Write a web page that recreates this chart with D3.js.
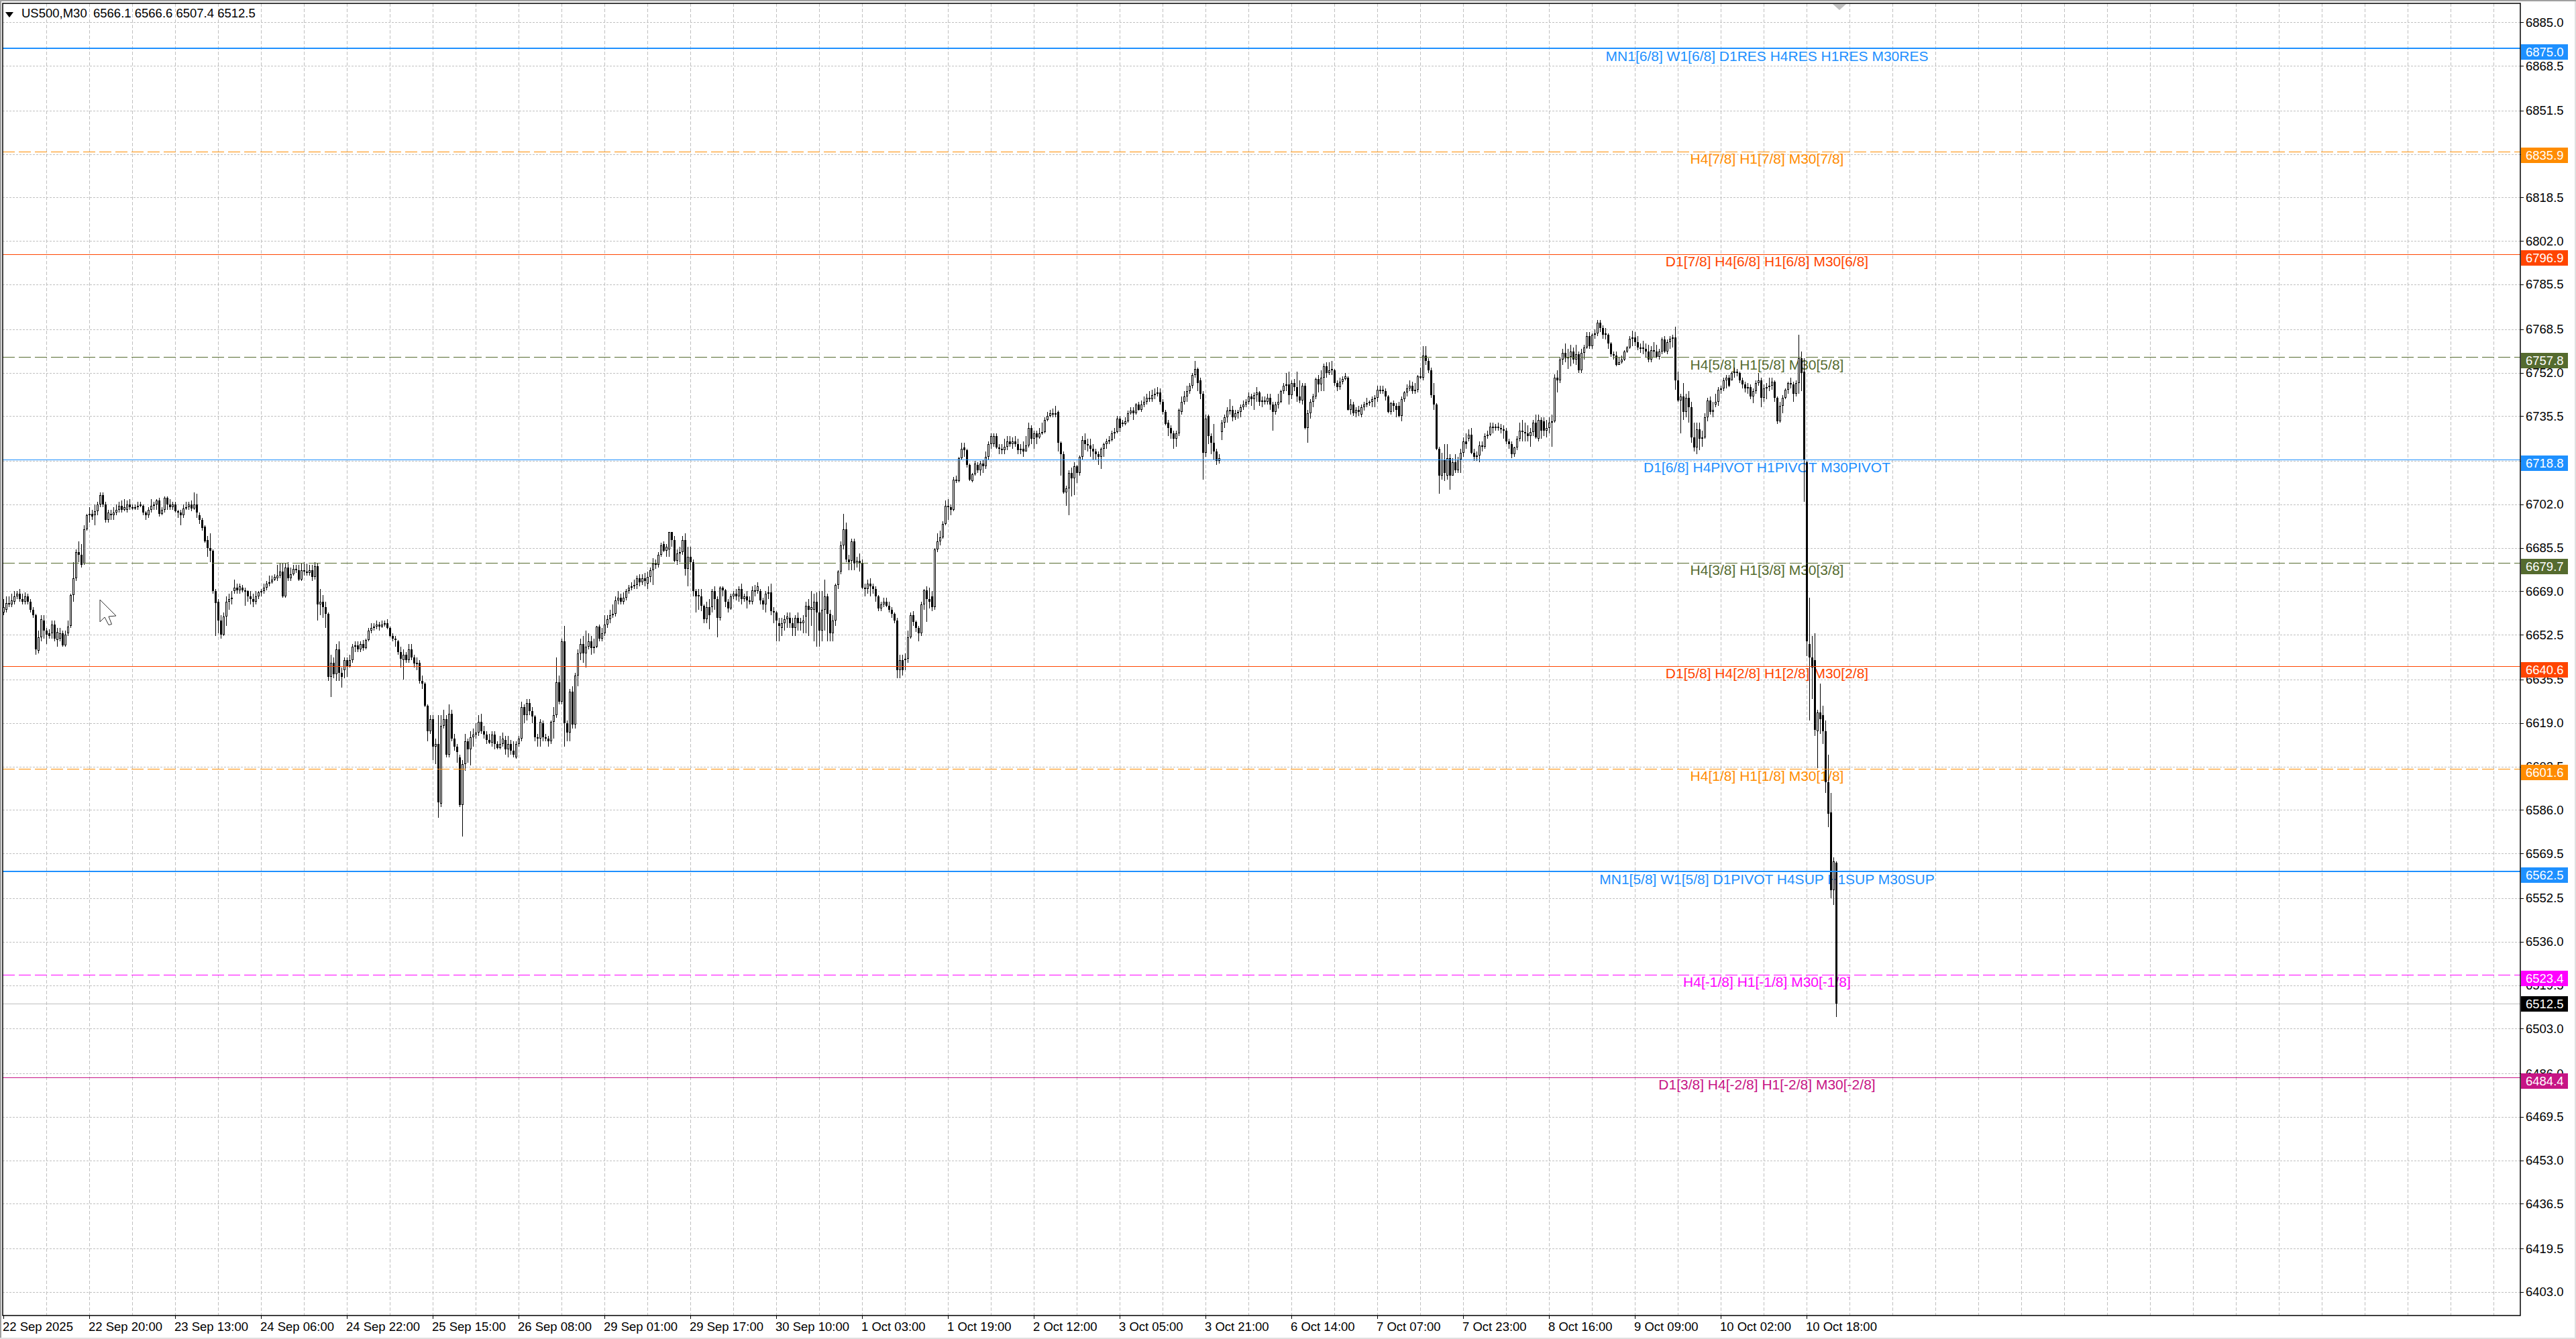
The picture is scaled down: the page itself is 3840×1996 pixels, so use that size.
<!DOCTYPE html>
<html>
<head>
<meta charset="utf-8">
<title>US500,M30</title>
<script src="https://cdn.jsdelivr.net/npm/d3@7"></script>
<style>
  html, body { margin: 0; padding: 0; background: #fff; overflow: hidden; }
  svg { display: block; }
  text { font-family: "Liberation Sans", Arial, sans-serif; }
</style>
</head>
<body>
<div id="chart"></div>
<script>
// Candle values, one entry per M30 bar
const opens = [
6661,6662,6664,6664,6665,6667,6668,6666,6665,6667,
6665,6662,6660,6646.5,6651.5,6658,6654,6653,6653,6656.5,
6650.5,6651,6653,6648.5,6653,6656,6667.5,6674,6684,6683,
6679.5,6692.5,6698,6698.5,6698,6699.5,6702,6705.5,6702,6696,
6698,6698,6699,6700,6701.5,6700,6700,6702,6701,6700.5,
6701,6701.5,6701.5,6699,6698,6700,6701.5,6702,6703.5,6698.5,
6700,6704.5,6702,6701,6702,6699.5,6699,6698,6700.5,6701,
6702,6700.5,6702,6698,6696,6693.5,6688.5,6685.5,6684.5,6669,
6665,6658,6652.5,6659.5,6665,6666,6669,6670.5,6669.5,6670.5,
6669.5,6669,6667,6666,6665,6667,6668.5,6669,6670.5,6672,
6672.5,6673.5,6674,6675,6676.5,6667,6678,6674,6675.5,6677.5,
6677,6673.5,6677,6676.5,6676,6677,6674.5,6678.5,6664,6665,
6663,6660.5,6636.5,6642,6637.5,6647,6638,6639,6643,6640.5,
6643,6648,6648.5,6647,6649,6647.5,6650.5,6654,6655,6655.5,
6656.5,6655.5,6656.5,6657,6655,6652,6651,6650,6646,6643,
6645,6643,6647,6644,6641.5,6642,6635,6634,6625.5,6616,
6620.5,6610,6611,6588.5,6618,6620.5,6607,6622.5,6613,6610,
6606,6588,6603.5,6612,6609,6613.5,6614.5,6615.5,6619.5,6616,
6614.5,6612.5,6611.5,6614.5,6611,6609.5,6611,6612.5,6609,6611,
6608.5,6606,6611,6613,6625,6622,6626.5,6623.5,6621.5,6613.5,
6613,6619,6613.5,6613,6612,6619.5,6622,6634.5,6627,6650,
6619,6615.5,6631,6618.5,6637,6645.5,6649,6645.5,6648,6650,
6647.5,6648,6655.5,6651,6653,6656.5,6658.5,6660,6660.5,6665.5,
6666.5,6665,6666.5,6669,6670.5,6671,6671.5,6674,6672.5,6674,
6672,6674.5,6677,6679.5,6679,6683,6687,6684.5,6685,6691.5,
6688.5,6680.5,6683.5,6684,6688.5,6677.5,6682,6680,6669,6667,
6667,6663.5,6658.5,6663,6663,6669,6666,6659,6670.5,6669.5,
6665,6662.5,6667,6668,6667,6670,6666,6667,6665.5,6665,
6669.5,6669,6669,6665.5,6664,6668,6668.5,6661.5,6661,6657,
6655,6657,6658.5,6659,6657,6655,6659,6657.5,6657,6659.5,
6663.5,6662,6662,6665,6661,6654,6662,6667,6660.5,6653,
6658,6671.5,6676.5,6686.5,6692.5,6681,6680.5,6688,6679.5,6680.5,
6679.5,6670.5,6670,6672,6671,6670,6667,6662.5,6664,6665,
6663.5,6662,6660.5,6658,6639,6643,6643,6643.5,6651.5,6660,
6657.5,6655,6653,6664,6669.5,6666,6667,6663,6685,6688,
6689.5,6694.5,6701.5,6701,6700,6711.5,6711,6719.5,6723.5,6722.5,
6717,6711,6713.5,6717,6715,6717.5,6716.5,6720,6725,6725,
6728,6723.5,6723,6722.5,6724,6726,6725,6726,6725,6722.5,
6723,6722,6724.5,6731,6727,6729,6727.5,6729,6729.5,6734,
6735.5,6736.5,6736,6737,6725.5,6721,6706.5,6708,6714,6712,
6716.5,6714,6720,6726.5,6725,6724.5,6723,6722,6721,6720,
6723,6725,6726,6726.5,6729,6729.5,6734.5,6733,6732.5,6733.5,
6736.5,6737.5,6736.5,6740,6738,6740,6741,6742.5,6742,6743.5,
6744,6744.5,6741,6737,6733,6731,6729,6727,6729,6737,
6741,6743,6745,6747,6751,6753.5,6749,6744,6721.5,6735.5,
6728,6725.5,6722,6718.5,6729.5,6733,6735,6737.5,6738,6735,
6736.5,6737,6739,6740,6741,6743,6742,6743.5,6744.5,6741,
6741.5,6741,6742.5,6740,6737,6740,6741,6745,6747,6747.5,
6743.5,6748,6746.5,6743,6741.5,6747,6731,6736.5,6741,6743,
6749.5,6747.5,6750,6754.5,6752,6753,6753,6748,6746.5,6748.5,
6749.5,6750,6738,6740,6736.5,6738,6736,6739,6740,6740.5,
6741,6742,6742.5,6745,6745.5,6745,6743,6737,6740.5,6739.5,
6739.5,6735.5,6742,6744.5,6746,6747,6745,6745.5,6750.5,6750,
6758.5,6756.5,6753,6743.5,6740,6723,6713,6719,6713,6719.5,
6713,6718,6715,6719,6721.5,6726,6727,6728.5,6721.5,6720,
6720.5,6724.5,6724,6728,6728.5,6731.5,6731,6731.5,6731,6730.5,
6730,6726,6725,6721,6723.5,6727,6730,6729.5,6729,6728,
6729.5,6733,6727,6734,6733.5,6730,6731,6733.5,6733.5,6750,
6749,6757,6759.5,6757.5,6758,6760,6757,6759,6753,6759.5,
6761.5,6766,6762,6766.5,6767,6771,6769,6767,6766.5,6763,
6759,6758.5,6755,6756,6757,6760,6761.5,6765,6765.5,6763.5,
6761.5,6761,6761,6760,6757,6760.5,6760,6758,6760,6764.5,
6760,6763.5,6765,6765.5,6749,6741.5,6743,6737,6742.5,6739,
6727.5,6723.5,6730.5,6727,6727.5,6735,6741.5,6737,6740,6741,
6745.5,6746,6749,6750,6749,6752,6752.5,6752,6749,6747.5,
6746,6746.5,6743,6745,6748,6749,6742.5,6746,6746.5,6747,
6748.5,6742.5,6733.5,6739.5,6742.5,6745.5,6748,6747.5,6744,6748,
6757.5,6752.5,6718,6649,6644,6643,6616,6623,6622,6616,
6596.5,6585,6555.5,6566.1];
const closes = [
6663,6664.5,6664.5,6665.5,6667,6668,6666,6665,6667,6665,
6662,6660,6647,6651.5,6658.5,6654,6652.5,6652,6656.5,6651,
6653.5,6653,6648.5,6652.5,6655.5,6667.5,6674,6684,6683,6679,
6692.5,6698,6698.5,6697.5,6699.5,6702,6705.5,6702,6696,6699,
6698.5,6699,6700,6701.5,6700,6701,6702,6701,6700.5,6701,
6701.5,6702,6699,6698,6700,6701.5,6702,6703.5,6698.5,6700,
6704.5,6702,6701,6702,6699.5,6699,6698,6700.5,6701,6702,
6700.5,6702,6699,6696,6693,6688,6685.5,6684.5,6669,6664.5,
6658,6652.5,6659.5,6665,6666,6666.5,6670.5,6669.5,6671,6669.5,
6669,6667,6666,6665,6667,6668.5,6669,6670.5,6672,6672.5,
6673.5,6674.5,6675,6676.5,6667,6678,6674,6675.5,6677.5,6677,
6673.5,6677,6676.5,6676,6677,6674.5,6678.5,6664,6665,6663,
6660.5,6636.5,6642,6637.5,6647,6638,6636.5,6643,6640.5,6643,
6648,6648.5,6647,6649,6647.5,6650.5,6654,6655,6655.5,6656.5,
6655.5,6656.5,6657,6655,6652,6651,6650.5,6646,6643.5,6645,
6643,6647,6644,6641.5,6642,6635,6634,6625.5,6616,6620.5,
6610,6611,6589,6618,6620.5,6607,6622.5,6613,6610,6608,
6588,6603.5,6612,6609,6613.5,6614.5,6615.5,6619.5,6616,6614.5,
6612.5,6611.5,6614.5,6611,6609.5,6611,6613,6609,6611,6608.5,
6607,6611,6613,6625,6622,6626.5,6623.5,6621.5,6613.5,6613,
6619.5,6613.5,6613,6612,6619.5,6622,6634.5,6627,6650,6619,
6615.5,6631,6618.5,6637,6645.5,6649,6645.5,6648,6650,6647.5,
6648,6655.5,6651,6653,6656.5,6658.5,6660,6660.5,6665.5,6666.5,
6665,6666.5,6669,6670.5,6671,6671.5,6674,6672.5,6674,6673,
6674.5,6677,6679.5,6679,6683,6686.5,6684.5,6686,6691.5,6688.5,
6680.5,6683.5,6684,6688.5,6677.5,6682,6680,6669,6667,6667.5,
6663.5,6658.5,6663,6660,6669,6666,6659,6670.5,6669.5,6665,
6662.5,6667,6668,6667,6670,6666,6667,6665.5,6665,6669.5,
6669,6671,6665.5,6664,6668,6668.5,6661.5,6661,6658,6656,
6657,6658.5,6659.5,6657,6655,6659,6657,6657,6658,6663.5,
6662,6663,6665,6661,6654,6662,6667,6660.5,6653,6658,
6671.5,6676.5,6686.5,6692.5,6681,6680,6688,6679.5,6680.5,6679.5,
6670.5,6670,6672,6671,6670,6667,6662.5,6664,6665,6663.5,
6662,6660.5,6658,6639,6643,6639,6643.5,6651.5,6660,6657.5,
6655,6653,6664,6669.5,6666,6665,6663,6685,6688,6689.5,
6694.5,6701.5,6701,6700,6711.5,6711,6719.5,6723,6722.5,6717,
6711.5,6713.5,6717.5,6715,6717.5,6716.5,6720,6725,6728,6728,
6723.5,6723,6722.5,6724,6726,6725,6726,6725,6722.5,6723,
6722,6724.5,6731,6727,6729,6727.5,6729,6729.5,6734,6735.5,
6736.5,6736,6736.5,6725.5,6721,6706.5,6708,6714,6712,6716.5,
6714,6720,6726.5,6725,6724.5,6723,6722,6721,6720,6723,
6725,6726,6726.5,6729,6729.5,6734.5,6731,6732.5,6733.5,6736.5,
6737.5,6736.5,6740,6738,6740,6741,6742.5,6742,6743.5,6744,
6744.5,6741,6737,6732.5,6731,6729,6727,6729,6738,6741,
6743,6745,6747,6751,6753.5,6748,6744,6721.5,6734.5,6728,
6725.5,6722,6718.5,6719.5,6733,6735,6737.5,6738,6735,6736.5,
6737,6739,6740,6741,6743,6742,6743.5,6744.5,6741,6741.5,
6741,6742.5,6740,6737,6740,6741,6745,6747,6747.5,6743.5,
6748,6746.5,6743,6741.5,6747,6731,6736.5,6741,6743,6749.5,
6747.5,6750,6754.5,6752,6753,6753.5,6748,6746.5,6748.5,6749.5,
6750.5,6738,6740,6736.5,6738,6737,6739,6740,6740.5,6741,
6742,6742.5,6745.5,6745.5,6745,6743,6737,6740.5,6739.5,6738,
6735.5,6742,6744.5,6746,6747,6745,6745.5,6750.5,6750,6758.5,
6756.5,6753,6743.5,6740,6723,6713,6719,6714,6719.5,6713,
6718,6715,6719,6721.5,6726,6725,6728.5,6721.5,6720,6720.5,
6724.5,6724,6728,6728.5,6731.5,6731,6731.5,6731,6730.5,6730,
6726,6725,6721,6723.5,6727,6730,6729.5,6729,6728,6729.5,
6733,6727.5,6734,6730,6730,6731,6733,6733,6750,6749,
6757,6759.5,6757.5,6758,6760,6757,6759,6753,6759.5,6761.5,
6766,6762,6766.5,6767,6771,6769,6766.5,6766.5,6763,6759,
6758.5,6755,6756,6757,6760,6761.5,6765,6765.5,6763.5,6761.5,
6761,6761.5,6760,6757,6760.5,6760,6758,6760,6764.5,6760,
6763.5,6765,6765.5,6749,6741.5,6743,6737,6742.5,6739,6727.5,
6723.5,6730.5,6727,6727.5,6735,6741.5,6737,6738,6741,6745.5,
6746,6749,6750,6747,6752,6752.5,6752,6749,6747.5,6746,
6746.5,6743,6745,6748,6749,6742.5,6746,6746.5,6747,6748.5,
6742.5,6733.5,6739.5,6742.5,6745.5,6748,6747.5,6744,6748,6757.5,
6752,6719,6650,6644,6640,6616.5,6623,6620.5,6616,6596.5,
6584.5,6555.5,6566.5,6512.5];
const highs = [
6666,6667,6667,6668,6669,6669,6670,6668,6668.5,6668,
6666,6663,6660.5,6654,6660,6660,6655,6654.5,6658,6658,
6655,6655,6654,6654,6658,6668,6680,6685,6688,6687,
6694,6698.5,6701,6700,6702,6703,6706.5,6706.5,6703,6700,
6700,6701,6702,6703,6703.5,6704,6703.5,6704,6702,6702,
6703,6703,6702,6699.5,6701,6704,6703,6704,6704.5,6701,
6705,6705,6704,6703,6703,6700,6700,6702,6703,6703,
6703.5,6706.5,6706,6699,6697,6694,6690,6691,6685,6670,
6666,6660,6661,6667,6668,6669,6673.5,6672,6672,6671.5,
6670.5,6669.5,6669,6668,6669,6669,6670,6672,6673,6675,
6675,6675.5,6679,6679.5,6679.5,6679.5,6680,6678,6679,6679,
6679,6679.5,6680,6679.5,6679,6679,6680,6679.5,6670,6667.5,
6665,6661,6645,6644,6649,6650,6640,6644,6644,6645,
6649,6650,6650,6650,6650.5,6651,6655,6657,6657,6658,
6657.5,6658,6658,6658.5,6655.5,6653,6652,6650.5,6648,6647,
6646,6649,6649,6645,6644,6643,6637,6634.5,6626,6622,
6622,6613,6622,6622,6624,6622,6626,6624,6615,6611,
6607,6605,6615,6613,6616,6617,6619,6622,6622.5,6618,
6616,6615,6616,6616,6612,6614,6615.5,6614,6614,6612.5,
6612,6612,6614,6627,6626,6628,6628,6625,6622,6615,
6620.5,6620,6615,6614,6620,6625,6644,6637,6651,6656,
6620,6632,6633,6638,6647,6651,6652,6654,6653,6652,
6651,6656,6656.5,6655,6660,6660,6662,6664,6667,6669,
6668,6668.5,6670,6671.5,6672.5,6673.5,6675,6675.5,6675.5,6676,
6676.5,6678,6681.5,6681,6684,6687.5,6688,6687,6691.5,6691.5,
6690,6685,6686,6690,6691,6686,6686,6681,6670,6670,
6670,6664,6665,6666,6670,6671,6667,6671,6671,6670,
6666,6668,6669,6670,6671,6672,6668,6669,6667,6671,
6671.5,6672.5,6670,6666.5,6669,6671,6672,6663,6661.5,6659,
6659,6660,6661,6661,6659,6660,6661,6659,6660,6665,
6666,6669,6668,6668.5,6669,6669,6673.5,6668,6662,6660,
6672,6677,6688,6698.5,6695,6683,6689,6689,6682,6683.5,
6681,6672,6673.5,6674,6672,6671,6667.5,6665,6666.5,6666.5,
6665,6663,6661,6659,6645,6645,6645.5,6654,6661,6661.5,
6658,6656,6665,6670,6671,6670.5,6669,6685.5,6691,6692,
6695.5,6703.5,6704,6702,6712.5,6713,6720,6725.5,6725.5,6723,
6717.5,6714,6718.5,6718,6718.5,6719,6722,6726,6729,6729,
6729,6725,6725,6727,6728,6728,6727.5,6728,6727,6725,
6726,6728,6733,6732,6730,6730,6731,6733,6735,6737,
6738,6738.5,6739.5,6737.5,6726,6722,6709,6715,6716,6718,
6717,6720.5,6728,6729,6727,6727,6725,6723,6722,6723.5,
6725.5,6727,6728,6730,6731,6735.5,6735.5,6734,6735,6737.5,
6739,6739,6740.5,6741,6741.5,6743,6744,6745,6745.5,6746,
6746.5,6746,6742,6738,6734,6732,6730,6730,6738.5,6743,
6745,6747,6748,6752,6756.5,6754,6750,6745,6736,6736,
6729,6732.5,6723,6721,6734,6736,6739,6742,6739.5,6738,
6738,6740,6741.5,6742,6744.5,6744,6744.5,6746.5,6745,6743,
6743,6744,6744,6741,6741,6744,6745.5,6748,6752,6752.5,
6749,6749.5,6752.5,6749,6748,6748,6738,6742,6744,6750,
6751,6753,6755.5,6756,6756,6756.5,6753.5,6749,6750,6750.5,
6752,6750.5,6742,6741,6739,6739.5,6740,6741,6742.5,6741.5,
6743,6743.5,6747,6747,6747,6746,6743.5,6741,6741.5,6740.5,
6741,6743,6745,6747.5,6749,6748.5,6748,6751,6754,6762,
6762,6757.5,6754,6748,6740.5,6724,6721.5,6725,6725,6721,
6719.5,6721,6720,6723,6727.5,6729,6730.5,6731,6723,6722,
6726,6726,6729,6730,6733,6733,6732.5,6733,6732.5,6732,
6731,6727,6726,6724,6728,6733,6734,6733,6732,6731,
6734,6736,6736,6735,6735,6734,6735,6736,6751.5,6753,
6758,6761,6763,6761,6762.5,6761.5,6762.5,6760,6761,6762.5,
6767.5,6767.5,6767,6768.5,6772,6772,6770,6769,6767,6763.5,
6760,6760,6758,6758.5,6760.5,6762,6766,6768,6767.5,6766,
6763,6764,6763,6762.5,6762,6763.5,6762.5,6761,6765.5,6766,
6764.5,6766,6766.5,6769.5,6752.5,6744,6748,6744,6745,6741,
6733,6733,6733,6730,6736.5,6742.5,6743,6741,6744,6746.5,
6747,6750,6751,6751,6752.5,6754,6753.5,6752.5,6750,6748.5,
6748,6747.5,6746,6749,6752,6750,6747.5,6748,6750,6750,
6749,6743,6741,6743.5,6746,6748.5,6750,6748.5,6749,6766.5,
6760,6757.5,6718.5,6666.5,6652,6653,6624,6634,6625.5,6620,
6607,6592.5,6568,6566.6];
const lows = [
6660,6661,6663,6663,6664,6666,6665,6664,6664,6664,
6661,6659,6645,6645.5,6650,6651,6649,6651,6651,6650,
6648,6650,6648,6648,6652,6655,6665,6673,6680,6678,
6679,6692,6695,6696,6694,6698,6701,6701,6695,6695,
6696,6696,6698,6699,6699,6699.5,6699,6700,6700,6700,
6700,6701,6698,6696,6697,6699,6700,6700,6697.5,6698,
6699,6700,6700,6700,6699,6697,6694,6697,6700,6700,
6699.5,6700,6697,6694.5,6692,6687.5,6682,6680,6668,6652,
6653,6651,6652,6656,6662,6664,6668,6668,6668,6668.5,
6663.5,6665,6664,6663,6664,6666,6667,6668,6669.5,6671,
6672,6673,6673,6674,6666.5,6666.5,6673,6673,6675,6676,
6673,6673,6675,6675,6675,6673,6673.5,6658,6660,6659,
6655,6635,6629,6636,6635,6635,6632.5,6636,6636.5,6640,
6642,6646,6646,6646,6646.5,6647,6650,6653,6654,6654.5,
6654,6655,6655.5,6654.5,6651.5,6650,6648,6645,6640,6635.5,
6642,6642,6643,6640,6639,6634,6632,6625,6612,6615,
6605,6603.5,6583,6587,6617,6606,6606,6612,6608.5,6604,
6587,6576,6601,6604,6603,6610,6613,6614,6615,6613,
6611,6611,6610,6609,6609,6609,6610,6607,6606,6607,
6606,6605.5,6610,6612,6619,6620,6622,6619,6612,6610,
6610,6612,6612,6610,6611,6613,6621,6626,6626,6610,
6612,6612,6617,6617,6633,6643,6642,6640,6647,6645,
6645.5,6647.5,6650,6650,6652,6655,6657,6659,6659.5,6664,
6664,6664,6665.5,6668,6669.5,6670,6670,6671,6671.5,6671,
6670,6672.5,6671.5,6677.5,6678,6682,6684,6682,6682,6686,
6680,6679,6680,6683,6675,6671,6677,6667,6661,6662,
6661.5,6657,6657,6654.5,6661,6662,6651.5,6658,6667,6663,
6661,6662,6666,6665.5,6665,6664,6665,6662.5,6664,6664,
6667,6668,6664,6662,6661,6666,6660,6657,6650,6650,
6652,6654,6655,6655,6652,6652,6654,6654,6653,6653,
6652,6656,6650,6648,6648,6650,6654,6650,6650,6650,
6656,6670,6675.5,6685,6680,6677,6677,6677,6678,6676.5,
6670,6667,6668,6667,6668,6665,6661.5,6661.5,6663,6663,
6661,6659,6657,6636,6636,6637,6639,6642,6651,6656,
6653.5,6650,6652,6662,6657.5,6662.5,6661.5,6662,6684,6686.5,
6689,6694,6696,6698,6699.5,6710,6710.5,6719,6720,6716,
6711,6710.5,6713,6714,6713,6714,6715.5,6719,6723,6724,
6723,6721,6721,6721,6722.5,6724,6723,6724,6721,6721,
6720,6722,6723.5,6725,6723,6725,6727,6728.5,6729,6733.5,
6735,6735,6735,6722,6713,6706,6701.5,6698,6705,6705.5,
6710,6713,6719,6722.5,6722,6720,6719,6719,6717,6715.5,
6720,6723,6725,6726,6727,6729,6729.5,6731.5,6732,6733,
6736,6734,6736,6737.5,6737,6739,6740,6741,6741,6742,
6743,6740,6736,6732,6728,6727,6723,6724,6728,6736,
6740,6741,6744,6746,6750,6745,6742,6711.5,6720,6725,
6721,6719,6717,6717.5,6726.5,6731,6733,6736,6733.5,6734,
6734.5,6735,6738,6739,6740,6739.5,6738,6741,6739.5,6739,
6740,6740,6738,6730,6736,6738.5,6740.5,6744,6745,6740,
6742,6745,6741,6740.5,6740,6730.5,6725.5,6734.5,6739,6742,
6744.5,6745,6745,6750,6751,6751,6747,6745,6745.5,6747.5,
6749,6737.5,6736,6735.5,6735,6735.5,6735,6737.5,6739,6739.5,
6739,6739,6741,6744,6744,6741.5,6736.5,6736,6737,6735,
6735,6733.5,6741,6743,6745,6744,6744,6744.5,6749.5,6749,
6755,6752,6742.5,6738,6722.5,6706,6711.5,6711,6711.5,6707.5,
6713,6714,6714,6714,6720,6723,6726,6721,6718.5,6718.5,
6718,6722,6723,6727,6728,6729,6730,6730,6729,6727,
6725,6723,6719.5,6720,6722.5,6726,6726,6726,6726,6724,
6728,6727,6726,6727,6728,6727.5,6729,6724,6733,6744.5,
6748,6755,6756,6753.5,6754.5,6755.5,6755,6752,6752,6757,
6761,6761,6761,6765,6766,6767.5,6765,6764.5,6761,6758,
6757,6754.5,6755,6755.5,6756.5,6759.5,6761,6762,6762,6760.5,
6759.5,6759,6758,6756,6756,6758,6757.5,6757,6759,6759.5,
6759,6761,6761.5,6745.5,6741,6729,6734,6735,6733,6725.5,
6722,6721,6722.5,6724,6727,6733.5,6736,6735,6739,6739.5,
6744,6745,6746,6746.5,6750,6750,6750.5,6748,6746,6744.5,
6744,6742,6740.5,6744,6747,6739,6741,6742,6745,6745.5,
6741,6732.5,6733,6736.5,6742,6744,6746,6741,6743,6744,
6745,6703,6644.5,6620,6628,6614,6602,6615,6611,6592.5,
6579.5,6552.5,6550,6507.4];

// Axis labels
const priceTicks = [6885,6868.5,6851.5,6835,6818.5,6802,6785.5,6768.5,6752,6735.5,6718.5,6702,6685.5,6669,6652.5,6635.5,6619,6602.5,6586,6569.5,6552.5,6536,6519.5,6503,6486,6469.5,6453,6436.5,6419.5,6403];
const timeLabels = ["22 Sep 2025","22 Sep 20:00","23 Sep 13:00","24 Sep 06:00","24 Sep 22:00","25 Sep 15:00","26 Sep 08:00","29 Sep 01:00","29 Sep 17:00","30 Sep 10:00","1 Oct 03:00","1 Oct 19:00","2 Oct 12:00","3 Oct 05:00","3 Oct 21:00","6 Oct 14:00","7 Oct 07:00","7 Oct 23:00","8 Oct 16:00","9 Oct 09:00","10 Oct 02:00","10 Oct 18:00"];

// Murrey style levels drawn across the chart
const levelPrices = [6875.0,6835.9,6796.9,6757.8,6718.8,6679.7,6640.6,6601.6,6562.5,6523.4,6484.4];
const levelNames = [
  "MN1[6/8] W1[6/8] D1RES H4RES H1RES M30RES",
  "H4[7/8] H1[7/8] M30[7/8]",
  "D1[7/8] H4[6/8] H1[6/8] M30[6/8]",
  "H4[5/8] H1[5/8] M30[5/8]",
  "D1[6/8] H4PIVOT H1PIVOT M30PIVOT",
  "H4[3/8] H1[3/8] M30[3/8]",
  "D1[5/8] H4[2/8] H1[2/8] M30[2/8]",
  "H4[1/8] H1[1/8] M30[1/8]",
  "MN1[5/8] W1[5/8] D1PIVOT H4SUP H1SUP M30SUP",
  "H4[-1/8] H1[-1/8] M30[-1/8]",
  "D1[3/8] H4[-2/8] H1[-2/8] M30[-2/8]"
];
const levelColors = ["#1E90FF","#FF8C00","#FF4500","#556B2F","#1E90FF","#556B2F","#FF4500","#FF8C00","#1E90FF","#FF00FF","#C71585"];
const lastPrice = 6512.5;

const width = 3840, height = 1996;
const frame = { left: 4, top: 5, right: 3757, bottom: 1961 };

const svg = d3.select("#chart").append("svg")
  .attr("width", width)
  .attr("height", height);

// Window edges
svg.append("rect").attr("width", width).attr("height", height).attr("fill", "#fff");
svg.append("rect").attr("width", width).attr("height", 2).attr("fill", "#a0a0a0");
svg.append("rect").attr("y", 2).attr("width", 2).attr("height", height).attr("fill", "#a0a0a0");
svg.append("rect").attr("x", width - 2).attr("y", 2).attr("width", 2).attr("height", height).attr("fill", "#e0e0e0");
svg.append("rect").attr("y", height - 2).attr("width", width).attr("height", 2).attr("fill", "#e0e0e0");

// Scales
const x = d3.scaleLinear().domain([0, 938]).range([5, 3757]);
const y = d3.scaleLinear().domain([6885, 6403]).range([33.3, 1926]);
const py = v => Math.round(y(v));
const levelY = v => Math.round(y(v) - 0.5);

// Grid
const grid = svg.append("g").attr("shape-rendering", "crispEdges");
grid.selectAll(".hgrid").data(priceTicks).enter().append("line")
  .attr("x1", frame.left).attr("x2", frame.right)
  .attr("y1", d => py(d) + 0.5).attr("y2", d => py(d) + 0.5)
  .attr("stroke", "#c0c0c0").attr("stroke-dasharray", "3,2");
grid.selectAll(".vgrid").data(d3.range(16, 938, 16)).enter().append("line")
  .attr("x1", d => x(d) + 0.5).attr("x2", d => x(d) + 0.5)
  .attr("y1", frame.top).attr("y2", frame.bottom)
  .attr("stroke", "#c0c0c0").attr("stroke-dasharray", "5,3");

// Level labels sit under the candles
svg.append("g").selectAll("text").data(levelPrices).enter().append("text")
  .attr("x", 2634)
  .attr("y", d => y(d) + 18)
  .attr("text-anchor", "middle")
  .attr("fill", (d, i) => levelColors[i])
  .style("font-size", "21px")
  .text((d, i) => levelNames[i]);

// Current price line
svg.append("line")
  .attr("x1", frame.left).attr("x2", frame.right)
  .attr("y1", py(lastPrice) + 0.5).attr("y2", py(lastPrice) + 0.5)
  .attr("stroke", "#c0c0c0").attr("shape-rendering", "crispEdges");

// Candles: black body when falling, hollow when rising
const bars = svg.append("g").attr("shape-rendering", "crispEdges");
const idx = d3.range(opens.length);
bars.selectAll(".wick").data(idx).enter().append("rect")
  .attr("x", i => x(i))
  .attr("y", i => y(highs[i]))
  .attr("width", 1)
  .attr("height", i => y(lows[i]) - y(highs[i]))
  .attr("fill", "#000");
bars.selectAll(".body").data(idx).enter().append("rect")
  .attr("x", i => x(i) - 1)
  .attr("y", i => y(Math.max(opens[i], closes[i])))
  .attr("width", 3)
  .attr("height", i => Math.max(2, Math.abs(y(opens[i]) - y(closes[i]))))
  .attr("fill", "#000");
bars.selectAll(".hollow").data(idx.filter(i => closes[i] > opens[i])).enter().append("rect")
  .attr("x", i => x(i))
  .attr("y", i => y(closes[i]) + 1)
  .attr("width", 1)
  .attr("height", i => Math.max(0, y(opens[i]) - y(closes[i]) - 2))
  .attr("fill", "#fff");

// Level lines, the two monthly ones are thicker
const isMonthly = i => levelNames[i].startsWith("MN1");
svg.append("g").attr("shape-rendering", "crispEdges")
  .selectAll("line").data(levelPrices).enter().append("line")
  .attr("x1", frame.left).attr("x2", frame.right)
  .attr("y1", (d, i) => levelY(d) + (isMonthly(i) ? 0 : 0.5))
  .attr("y2", (d, i) => levelY(d) + (isMonthly(i) ? 0 : 0.5))
  .attr("stroke", (d, i) => levelColors[i])
  .attr("stroke-width", (d, i) => isMonthly(i) ? 2 : 1)
  .attr("stroke-dasharray", (d, i) => levelNames[i].startsWith("H4") ? "18,6" : null);

// Mouse pointer left in the screenshot
svg.append("path")
  .attr("d", "M149,894 L173,918 L162,919 L166.5,930.5 L162,931.6 L156,920 L149,927 Z")
  .attr("fill", "#fff").attr("stroke", "#333").attr("stroke-width", 1);

// Frame
svg.append("rect")
  .attr("x", frame.left).attr("y", frame.top)
  .attr("width", frame.right - frame.left).attr("height", frame.bottom - frame.top)
  .attr("fill", "none").attr("stroke", "#000").attr("stroke-width", 1.5);

// Shift marker at the top of the frame
svg.append("path")
  .attr("d", "M2732,6 L2752,6 L2742,15 Z")
  .attr("fill", "#c0c0c0");

// Price axis
const yAxis = svg.append("g")
  .attr("transform", `translate(${frame.right},0)`)
  .call(d3.axisRight(y).tickValues(priceTicks).tickFormat(d3.format(".1f")).tickSize(5).tickPadding(3));
yAxis.select(".domain").remove();
yAxis.selectAll("text").style("font-family", "Liberation Sans").style("font-size", "18.5px").attr("fill", "#000");
yAxis.selectAll("line").attr("stroke", "#000").attr("shape-rendering", "crispEdges");

// Time axis, one label every 32 bars
const xAxis = svg.append("g")
  .attr("transform", `translate(0,${frame.bottom})`)
  .call(d3.axisBottom(x).tickValues(timeLabels.map((d, i) => i * 32)).tickFormat((d, i) => timeLabels[i]).tickSize(5));
xAxis.select(".domain").remove();
xAxis.selectAll("text")
  .attr("text-anchor", "start").attr("x", -1.5).attr("y", 23).attr("dy", 0)
  .style("font-family", "Liberation Sans").style("font-size", "18.5px").attr("fill", "#000");
xAxis.selectAll("line").attr("stroke", "#000").attr("shape-rendering", "crispEdges");

// Price tags on the right edge
const tags = svg.append("g").selectAll("g").data(levelPrices).enter().append("g")
  .attr("transform", d => `translate(${frame.right + 1},${levelY(d) - 6})`);
tags.append("rect").attr("width", 70).attr("height", 23).attr("fill", (d, i) => levelColors[i]);
tags.append("text").attr("x", 7).attr("y", 18)
  .attr("fill", "#fff").style("font-size", "18.5px").text(d => d.toFixed(1));

const lastTag = svg.append("g").attr("transform", `translate(${frame.right + 1},${py(lastPrice) - 11})`);
lastTag.append("rect").attr("width", 70).attr("height", 23).attr("fill", "#000");
lastTag.append("text").attr("x", 7).attr("y", 18)
  .attr("fill", "#fff").style("font-size", "18.5px").text(lastPrice.toFixed(1));

// Header with the symbol and the last bar's values
svg.append("path").attr("d", "M8,18 L20,18 L14,26 Z").attr("fill", "#000");
svg.append("text").attr("x", 32).attr("y", 26).attr("fill", "#000").style("font-size", "18.5px").text("US500,M30");
svg.append("text").attr("x", 139).attr("y", 26).attr("fill", "#000").style("font-size", "18.5px")
  .text(`${opens[683].toFixed(1)} ${highs[683].toFixed(1)} ${lows[683].toFixed(1)} ${closes[683].toFixed(1)}`);
</script>
</body>
</html>
